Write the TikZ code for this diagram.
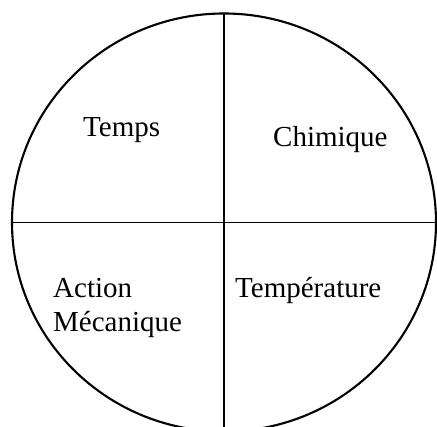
\documentclass[tikz,border=0pt]{standalone}
\usepackage{fontspec}
\setmainfont{Liberation Serif}
\usetikzlibrary{positioning,shapes.geometric}
\tikzset{
  rim/.style={ellipse,draw=black,line width=2.1pt,inner sep=0pt,outer sep=0pt,minimum width=424pt,minimum height=418pt},
  split/.style={draw=black,line width=1.7pt},
  word/.style={font=\fontsize{29}{35}\selectfont,text=black,inner sep=0pt,anchor=base west}
}
\begin{document}
\begin{tikzpicture}[x=1pt,y=1pt]
  \useasboundingbox (0,0) rectangle (437,427);
  \clip (0,0) rectangle (437,427);
  \node[rim] (disc) at (224,204.5) {};
  \draw[split] (disc.north) -- (disc.south);
  \draw[split] (disc.west) -- (disc.east);
  % quarter labels
  \node[word] (temps) at (83,290) {Temps};
  \node[word] (chim) at (273,280) {Chimique};
  \node[word] (actn) at (53,129) {Action};
  \node[word] (mech) at (53,95) {Mécanique};
  \node[word] (temp) at (235,129) {Température};
\end{tikzpicture}
\end{document}
